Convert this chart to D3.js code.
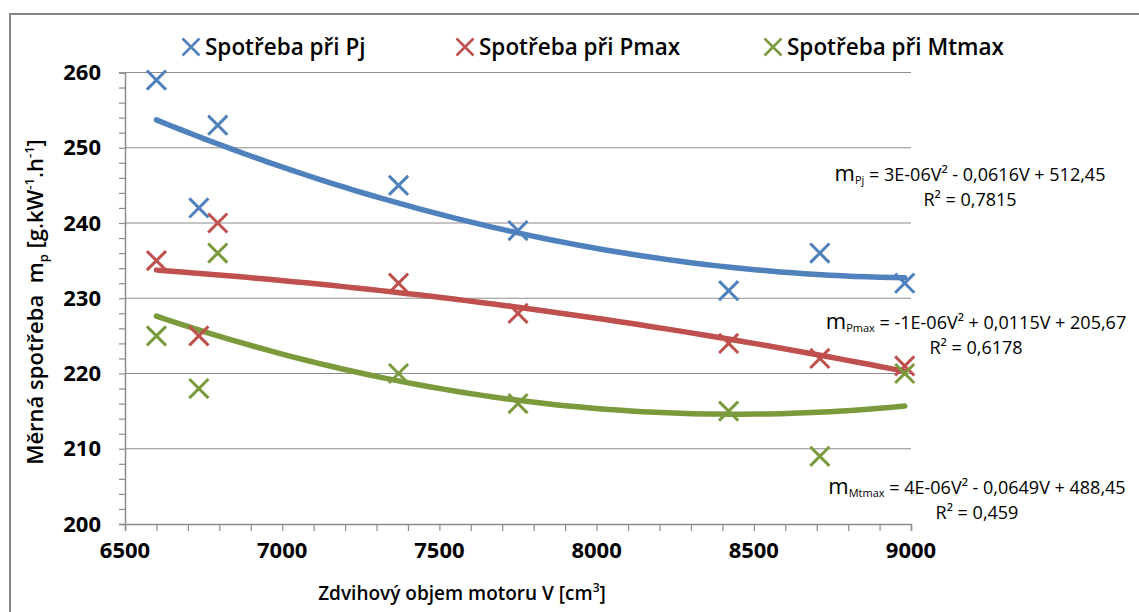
<!DOCTYPE html>
<html>
<head>
    <meta charset="utf-8">
    <script src="https://d3js.org/d3.v7.min.js"></script>
    <style>
        body { margin: 0; background: #fff; }
        text { font-family: "Open Sans", Lato, sans-serif; fill: #000; }
    </style>
</head>
<body>
    <svg width="1139" height="612"></svg>
    <script>
        // engine displacement V [cm3]
        const volumes = [6600, 6735, 6795, 7370, 7750, 8420, 8710, 8980];
        const pj = [259, 242, 253, 245, 239, 231, 236, 232];
        const pmax = [235, 225, 240, 232, 228, 224, 222, 221];
        const mtmax = [225, 218, 236, 220, 216, 215, 209, 220];

        const seriesNames = ["Spotřeba při Pj", "Spotřeba při Pmax", "Spotřeba při Mtmax"];
        const colors = ["#4F81BD", "#C0504D", "#7A9A3C"];
        const equations = [
            ["Pj", " = 3E-06V² - 0,0616V + 512,45", "R² = 0,7815"],
            ["Pmax", " = -1E-06V² + 0,0115V + 205,67", "R² = 0,6178"],
            ["Mtmax", " = 4E-06V² - 0,0649V + 488,45", "R² = 0,459"]
        ];
        const xTicks = [6500, 7000, 7500, 8000, 8500, 9000];
        const yTicks = [200, 210, 220, 230, 240, 250, 260];

        const series = [pj, pmax, mtmax];

        const svg = d3.select("svg");
        const plotL = 125, plotR = 911, plotT = 72.5, plotB = 524;

        const x = d3.scaleLinear().domain([6500, 9000]).range([plotL, plotR]);
        const y = d3.scaleLinear().domain([200, 260]).range([plotB, plotT]);

        // chart border
        svg.append("rect")
            .attr("x", 10).attr("y", 14)
            .attr("width", 1200).attr("height", 700)
            .attr("fill", "none").attr("stroke", "#868686").attr("stroke-width", 2);

        // gridlines
        svg.append("g").selectAll("line")
            .data(yTicks.slice(1))
            .enter().append("line")
            .attr("x1", plotL).attr("x2", plotR)
            .attr("y1", d => y(d)).attr("y2", d => y(d))
            .attr("stroke", "#8c8c8c").attr("stroke-width", 1.2);

        // axes
        const yAxis = svg.append("g")
            .attr("transform", "translate(" + plotL + ",0)")
            .call(d3.axisLeft(y).ticks(30).tickSize(6).tickFormat(""));
        const xAxis = svg.append("g")
            .attr("transform", "translate(0," + plotB + ")")
            .call(d3.axisBottom(x).ticks(25).tickSize(7).tickFormat(""));
        [yAxis, xAxis].forEach(g => {
            g.select(".domain").attr("stroke", "#8c8c8c").attr("stroke-width", 1.5);
            g.selectAll(".tick line").attr("stroke", "#8c8c8c").attr("stroke-width", 1.2);
        });

        svg.append("g").selectAll("text")
            .data(yTicks)
            .enter().append("text")
            .attr("x", 101).attr("y", d => y(d) + 7.5)
            .attr("text-anchor", "end")
            .style("font-size", "22px").style("font-weight", "bold")
            .text(d => d);

        svg.append("g").selectAll("text")
            .data(xTicks)
            .enter().append("text")
            .attr("x", d => x(d)).attr("y", 558)
            .attr("text-anchor", "middle")
            .style("font-size", "22px").style("font-weight", "bold")
            .text(d => d);

        // axis titles
        const xt = svg.append("text")
            .attr("x", 462).attr("y", 600)
            .attr("text-anchor", "middle")
            .style("font-size", "19px").style("font-weight", "600");
        xt.append("tspan").text("Zdvihový objem motoru V [cm");
        xt.append("tspan").attr("dy", -8).style("font-size", "12px").text("3");
        xt.append("tspan").attr("dy", 8).text("]");

        const yt = svg.append("text")
            .attr("transform", "translate(43,302) rotate(-90)")
            .attr("text-anchor", "middle")
            .style("font-size", "22px").style("font-weight", "600")
            .attr("xml:space", "preserve");
        yt.append("tspan").text("Měrná spotřeba  m");
        yt.append("tspan").attr("dy", 5).style("font-size", "13px").text("p");
        yt.append("tspan").attr("dy", -5).text(" [g.kW");
        yt.append("tspan").attr("dy", -9).style("font-size", "13px").text("-1");
        yt.append("tspan").attr("dy", 9).text(".h");
        yt.append("tspan").attr("dy", -9).style("font-size", "13px").text("-1");
        yt.append("tspan").attr("dy", 9).text("]");

        // least-squares quadratic fit
        function quadFit(xs, ys) {
            const u = xs.map(v => (v - 7500) / 1000);
            const s = [0, 0, 0, 0, 0], t = [0, 0, 0];
            u.forEach((ui, i) => {
                for (let k = 0; k < 5; k++) s[k] += Math.pow(ui, k);
                for (let k = 0; k < 3; k++) t[k] += Math.pow(ui, k) * ys[i];
            });
            const A = [[s[0], s[1], s[2], t[0]], [s[1], s[2], s[3], t[1]], [s[2], s[3], s[4], t[2]]];
            for (let i = 0; i < 3; i++) {
                for (let j = i + 1; j < 3; j++) {
                    const f = A[j][i] / A[i][i];
                    for (let k = i; k < 4; k++) A[j][k] -= f * A[i][k];
                }
            }
            const c = [0, 0, 0];
            for (let i = 2; i >= 0; i--) {
                let v = A[i][3];
                for (let k = i + 1; k < 3; k++) v -= A[i][k] * c[k];
                c[i] = v / A[i][i];
            }
            return v => { const w = (v - 7500) / 1000; return c[0] + c[1] * w + c[2] * w * w; };
        }

        const line = d3.line().x(d => x(d[0])).y(d => y(d[1])).curve(d3.curveLinear);
        const xMin = d3.min(volumes), xMax = d3.max(volumes);

        series.forEach((vals, i) => {
            const f = quadFit(volumes, vals);
            const pts = d3.range(0, 61).map(k => {
                const v = xMin + (xMax - xMin) * k / 60;
                return [v, f(v)];
            });
            svg.append("path")
                .attr("d", line(pts))
                .attr("fill", "none")
                .attr("stroke", colors[i])
                .attr("stroke-width", 5.5)
                .attr("stroke-linecap", "round");
        });

        const cross = d3.symbol().type(d3.symbolX).size(240);
        series.forEach((vals, i) => {
            svg.append("g").selectAll("path")
                .data(vals)
                .enter().append("path")
                .attr("transform", (d, j) => "translate(" + x(volumes[j]) + "," + y(d) + ")")
                .attr("d", cross)
                .attr("fill", "none")
                .attr("stroke", colors[i])
                .attr("stroke-width", 3);
        });

        // legend
        const legendX = [191, 465, 773];
        seriesNames.forEach((name, i) => {
            svg.append("path")
                .attr("transform", "translate(" + legendX[i] + ",47)")
                .attr("d", d3.symbol().type(d3.symbolX).size(190)())
                .attr("fill", "none").attr("stroke", colors[i]).attr("stroke-width", 2.5);
            svg.append("text")
                .attr("x", legendX[i] + 14).attr("y", 55)
                .style("font-size", "22.5px").style("font-weight", "600")
                .text(name);
        });

        // trendline equations
        const eqY = [175, 323, 488];
        const eqX = [970, 976, 977];
        equations.forEach((e, i) => {
            const t1 = svg.append("text")
                .attr("x", eqX[i]).attr("y", eqY[i] + 6)
                .attr("text-anchor", "middle")
                .style("font-size", "18px");
            t1.append("tspan").style("font-size", "22px").text("m");
            t1.append("tspan").attr("dy", 3).style("font-size", "11px").text(e[0]);
            t1.append("tspan").attr("dy", -3).text(e[1]);
            svg.append("text")
                .attr("x", eqX[i]).attr("y", eqY[i] + 31)
                .attr("text-anchor", "middle")
                .style("font-size", "18px")
                .text(e[2]);
        });
    </script>
</body>
</html>
